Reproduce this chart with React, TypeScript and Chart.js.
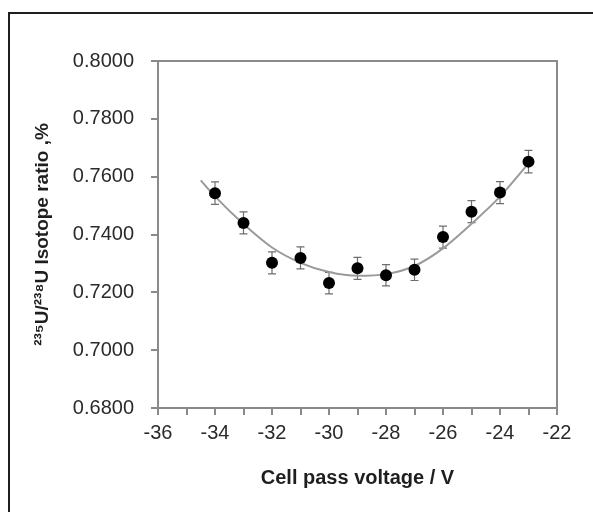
import React, { useEffect, useRef } from "react";
import { Chart, registerables } from "chart.js";

Chart.register(...registerables);

const voltages = [-34, -33, -32, -31, -30, -29, -28, -27, -26, -25, -24, -23];
const ratios = [0.7543, 0.744, 0.7302, 0.7319, 0.7232, 0.7283, 0.7259, 0.7278, 0.7391, 0.7479, 0.7545, 0.7652];
const errors = [0.0039, 0.0038, 0.0038, 0.0038, 0.0037, 0.0038, 0.0037, 0.0037, 0.0038, 0.0038, 0.0038, 0.0039];
const fitVoltages = [-34.5, -34, -33, -32, -31, -30, -29, -28, -27, -26, -25, -24, -23];
const fitRatios = [0.7587, 0.7532, 0.7436, 0.7355, 0.7302, 0.727, 0.7257, 0.7263, 0.7291, 0.7352, 0.7437, 0.7531, 0.7646];

const FONT = "'Liberation Sans', Arial, sans-serif";
const AXIS = "#8a8a8a";

const errorBarPlugin = {
  id: "errorBars",
  beforeDatasetsDraw(chart: any) {
    const { ctx, scales } = chart;
    const x = scales.x;
    const y = scales.y;
    ctx.save();
    ctx.strokeStyle = "#6e6e6e";
    ctx.lineWidth = 1.2;
    voltages.forEach((v, i) => {
      const px = x.getPixelForValue(v);
      const top = y.getPixelForValue(ratios[i] + errors[i]);
      const bot = y.getPixelForValue(ratios[i] - errors[i]);
      ctx.beginPath();
      ctx.moveTo(px, top);
      ctx.lineTo(px, bot);
      ctx.moveTo(px - 4, top);
      ctx.lineTo(px + 4, top);
      ctx.moveTo(px - 4, bot);
      ctx.lineTo(px + 4, bot);
      ctx.stroke();
    });
    ctx.restore();
  },
};

const boxPlugin = {
  id: "plotBox",
  afterDraw(chart: any) {
    const { ctx, chartArea } = chart;
    ctx.save();
    ctx.strokeStyle = AXIS;
    ctx.lineWidth = 2;
    ctx.beginPath();
    ctx.moveTo(chartArea.left, chartArea.top);
    ctx.lineTo(chartArea.right, chartArea.top);
    ctx.lineTo(chartArea.right, chartArea.bottom);
    ctx.stroke();
    ctx.restore();
  },
};

export default function App() {
  const ref = useRef<HTMLCanvasElement>(null);
  useEffect(() => {
    document.body.style.overflow = "hidden";
    const chart = new Chart(ref.current as HTMLCanvasElement, {
      type: "scatter",
      data: {
        datasets: [
          {
            type: "scatter",
            label: "Measured",
            data: voltages.map((v, i) => ({ x: v, y: ratios[i] })),
            pointRadius: 6,
            pointBackgroundColor: "#000",
            pointBorderColor: "#000",
            pointBorderWidth: 0,
            order: 0,
          },
          {
            type: "line",
            label: "Fit",
            data: fitVoltages.map((v, i) => ({ x: v, y: fitRatios[i] })),
            borderColor: "#9a9a9a",
            borderWidth: 2,
            pointRadius: 0,
            cubicInterpolationMode: "monotone",
            fill: false,
            order: 1,
          } as any,
        ],
      },
      options: {
        animation: false,
        responsive: false,
        layout: { padding: { top: 47, right: 36, left: 0, bottom: 0 } },
        plugins: { legend: { display: false }, tooltip: { enabled: false } },
        scales: {
          x: {
            type: "linear",
            min: -36,
            max: -22,
            afterFit: (s: any) => {
              s.height = 100;
            },
            border: { display: true, color: AXIS, width: 2 },
            grid: { drawOnChartArea: false, drawTicks: true, tickLength: 7, color: AXIS, lineWidth: 2 },
            ticks: {
              stepSize: 1,
              autoSkip: false,
              maxRotation: 0,
              padding: 6,
              color: "#2a2a2a",
              font: { family: FONT, size: 20 },
              callback: (v: any) => (Math.round(v) % 2 === 0 ? String(v) : ""),
            },
            title: {
              display: true,
              text: "Cell pass voltage / V",
              color: "#1e1e1e",
              font: { family: FONT, size: 20, weight: "bold" },
              padding: { top: 0, bottom: 18 },
            },
          },
          y: {
            type: "linear",
            min: 0.68,
            max: 0.8,
            afterFit: (s: any) => {
              s.width = 148;
            },
            border: { display: true, color: AXIS, width: 2 },
            grid: { drawOnChartArea: false, drawTicks: true, tickLength: 7, color: AXIS, lineWidth: 2 },
            ticks: {
              stepSize: 0.02,
              padding: 17,
              color: "#2a2a2a",
              font: { family: FONT, size: 20 },
              callback: (v: any) => Number(v).toFixed(4),
            },
            title: {
              display: true,
              text: "²³⁵U/²³⁸U Isotope ratio ,%",
              color: "#1e1e1e",
              font: { family: FONT, size: 19, weight: "bold" },
              padding: { top: 21, bottom: 0 },
            },
          },
        },
      },
      plugins: [errorBarPlugin, boxPlugin],
    });
    return () => chart.destroy();
  }, []);

  return (
    <div style={{ position: "fixed", left: 0, top: 0, width: 593, height: 512, overflow: "hidden", background: "#fff" }}>
      <div
        style={{
          position: "absolute",
          left: 8,
          top: 12,
          width: 620,
          height: 540,
          borderTop: "2px solid #1e1e1e",
          borderLeft: "2px solid #1e1e1e",
          boxSizing: "border-box",
        }}
      >
        <canvas ref={ref} width={583} height={494} style={{ display: "block" }} />
      </div>
    </div>
  );
}
